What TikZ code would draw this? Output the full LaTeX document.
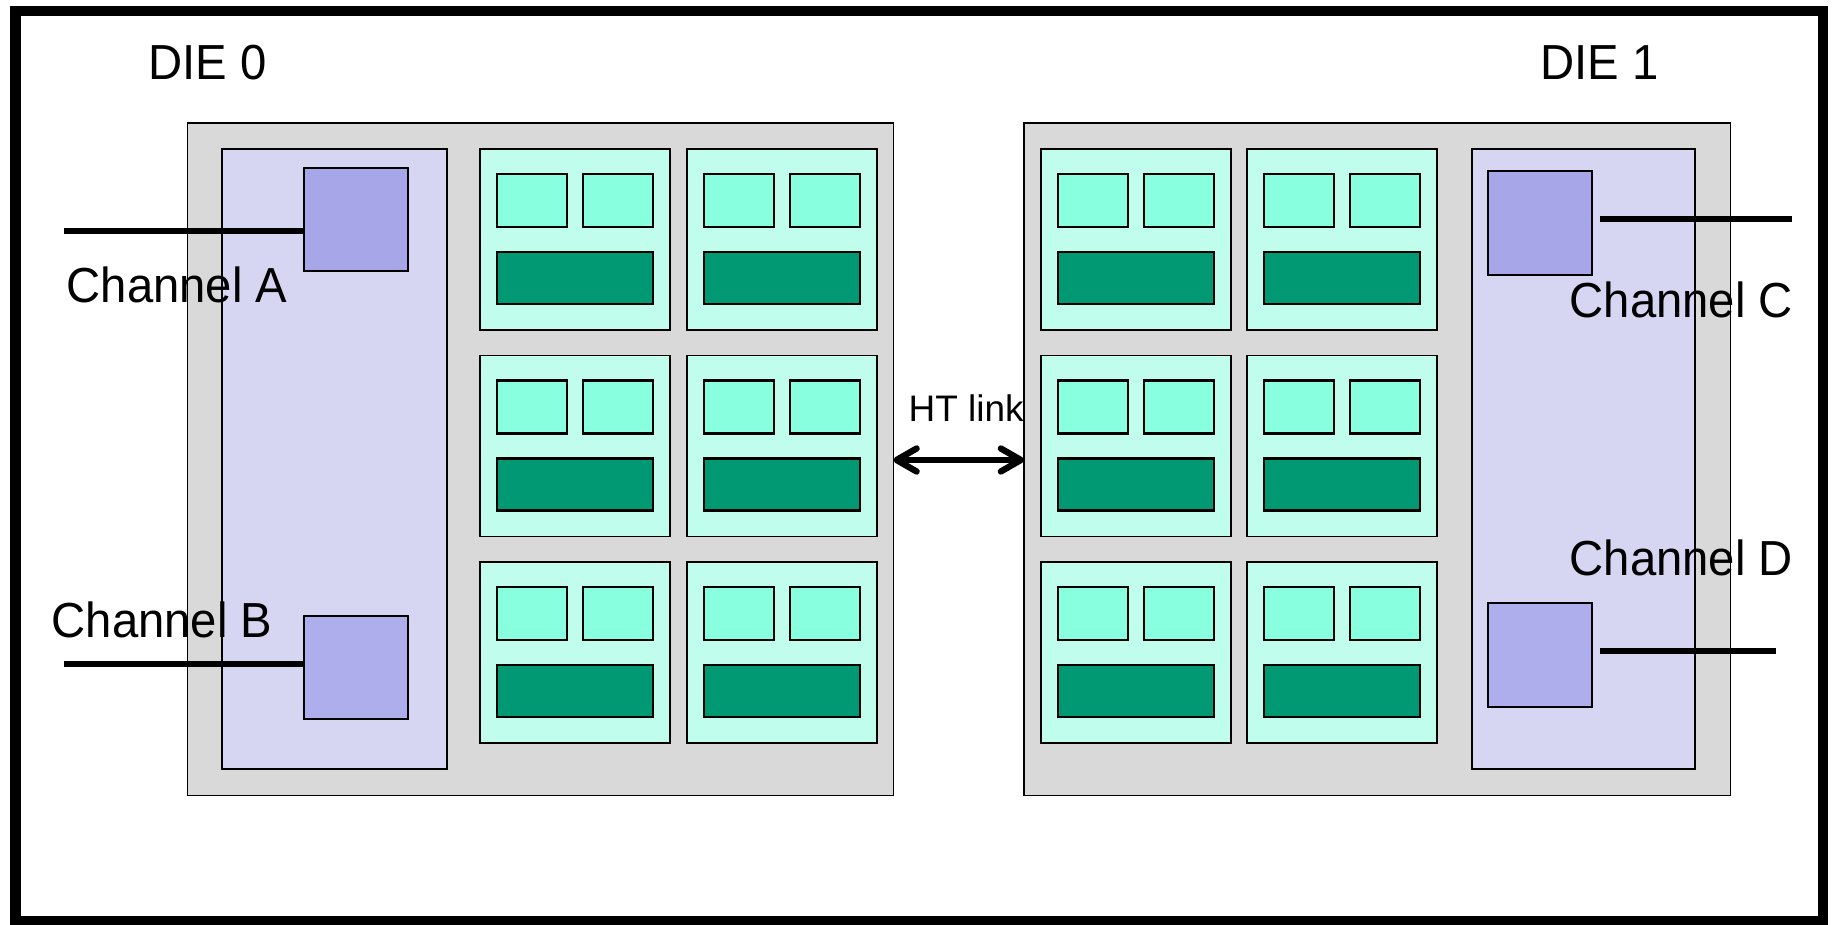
\documentclass[tikz,border=0pt]{standalone}
\usepackage{fontspec}
\setmainfont{Liberation Sans}
\newfontfamily\labelfont[FakeStretch=0.96]{Liberation Sans}
\usetikzlibrary{arrows.meta}
\definecolor{diegray}{HTML}{D9D9D9}
\definecolor{mcpanel}{HTML}{D6D6F3}
\definecolor{portA}{HTML}{A6A6E8}
\definecolor{portB}{HTML}{AEAEEC}
\definecolor{coretile}{HTML}{C1FDEC}
\definecolor{coreunit}{HTML}{88FFDF}
\definecolor{corecache}{HTML}{009973}
\tikzset{
  box/.style={draw=black, line width=0.45pt, rectangle, inner sep=0pt, outer sep=0pt, anchor=north west},
  dieblock/.style={box, fill=diegray},
  mcblock/.style={box, fill=mcpanel, line width=0.55pt},
  portblock/.style={box, line width=0.55pt},
  lbl/.style={inner sep=0pt, anchor=base west, font=\labelfont\fontsize{14}{17}\selectfont},
  wire/.style={line width=1.85pt},
  core/.pic={
    \path[draw=black, line width=0.5pt, fill=coretile] (0,0) rectangle (190,181);
    \path[draw=black, line width=0.6pt, fill=coreunit] (17,25) rectangle (87,78);
    \path[draw=black, line width=0.6pt, fill=coreunit] (103,25) rectangle (173,78);
    \path[draw=black, line width=0.6pt, fill=corecache] (17,103) rectangle (173,155);
  }
}
\begin{document}
\begin{tikzpicture}[x=0.01cm, y=-0.01cm]
\useasboundingbox (0,0) rectangle (1834,925);

% outer frame
\draw[line width=3.05pt] (15.5,11) rectangle (1823,921);

% the two dies
\node[dieblock, minimum width=7.055cm, minimum height=6.72cm] (die0) at (187.5,123) {};
\node[dieblock, minimum width=7.06cm, minimum height=6.72cm] (die1) at (1024,123) {};

% memory controller panels
\node[mcblock, minimum width=2.245cm, minimum height=6.20cm] (mc0) at (222,149) {};
\node[mcblock, minimum width=2.23cm, minimum height=6.20cm] (mc1) at (1472,149) {};

% channel ports
\node[portblock, fill=portA, minimum width=1.035cm, minimum height=1.03cm] (chA) at (304,168) {};
\node[portblock, fill=portB, minimum width=1.035cm, minimum height=1.03cm] (chB) at (304,616) {};
\node[portblock, fill=portA, minimum width=1.04cm, minimum height=1.04cm] (chC) at (1488,171) {};
\node[portblock, fill=portB, minimum width=1.04cm, minimum height=1.04cm] (chD) at (1488,603) {};

% core tiles, three rows of two per die
\foreach \cx in {480,687,1041,1247}
  \foreach \cy in {149,355.5,562}
    \pic at (\cx,\cy) {core};

% memory channel wires
\coordinate (endA) at (64,231);
\coordinate (endB) at (64,664);
\coordinate (endC) at (1792,219);
\coordinate (endD) at (1776,651);
\draw[wire] (endA) -- (endA -| chA.west);
\draw[wire] (endB) -- (endB -| chB.west);
\draw[wire] ([xshift=0.08cm]chC.east |- endC) -- (endC);
\draw[wire] ([xshift=0.08cm]chD.east |- endD) -- (endD);

% HyperTransport link between the dies
\coordinate (htmid) at (958,460);
\draw[line width=1.8pt, {Straight Barb[length=2mm, width=2.3mm, round]}-{Straight Barb[length=2mm, width=2.3mm, round]}]
  (die0.east |- htmid) -- (die1.west |- htmid);

% labels
\node[lbl] (die0lbl) at (148,80) {DIE 0};
\node[lbl] (die1lbl) at (1540,80) {DIE 1};
\node[lbl] (lblA) at (66,303) {Channel A};
\node[lbl] (lblB) at (51,637) {Channel B};
\node[lbl] (lblC) at (1569,318) {Channel C};
\node[lbl] (lblD) at (1569,575) {Channel D};
\node[inner sep=0pt, anchor=base west, font=\fontsize{10.5}{12}\selectfont] (htlbl) at (908,422) {HT link};
\end{tikzpicture}
\end{document}
